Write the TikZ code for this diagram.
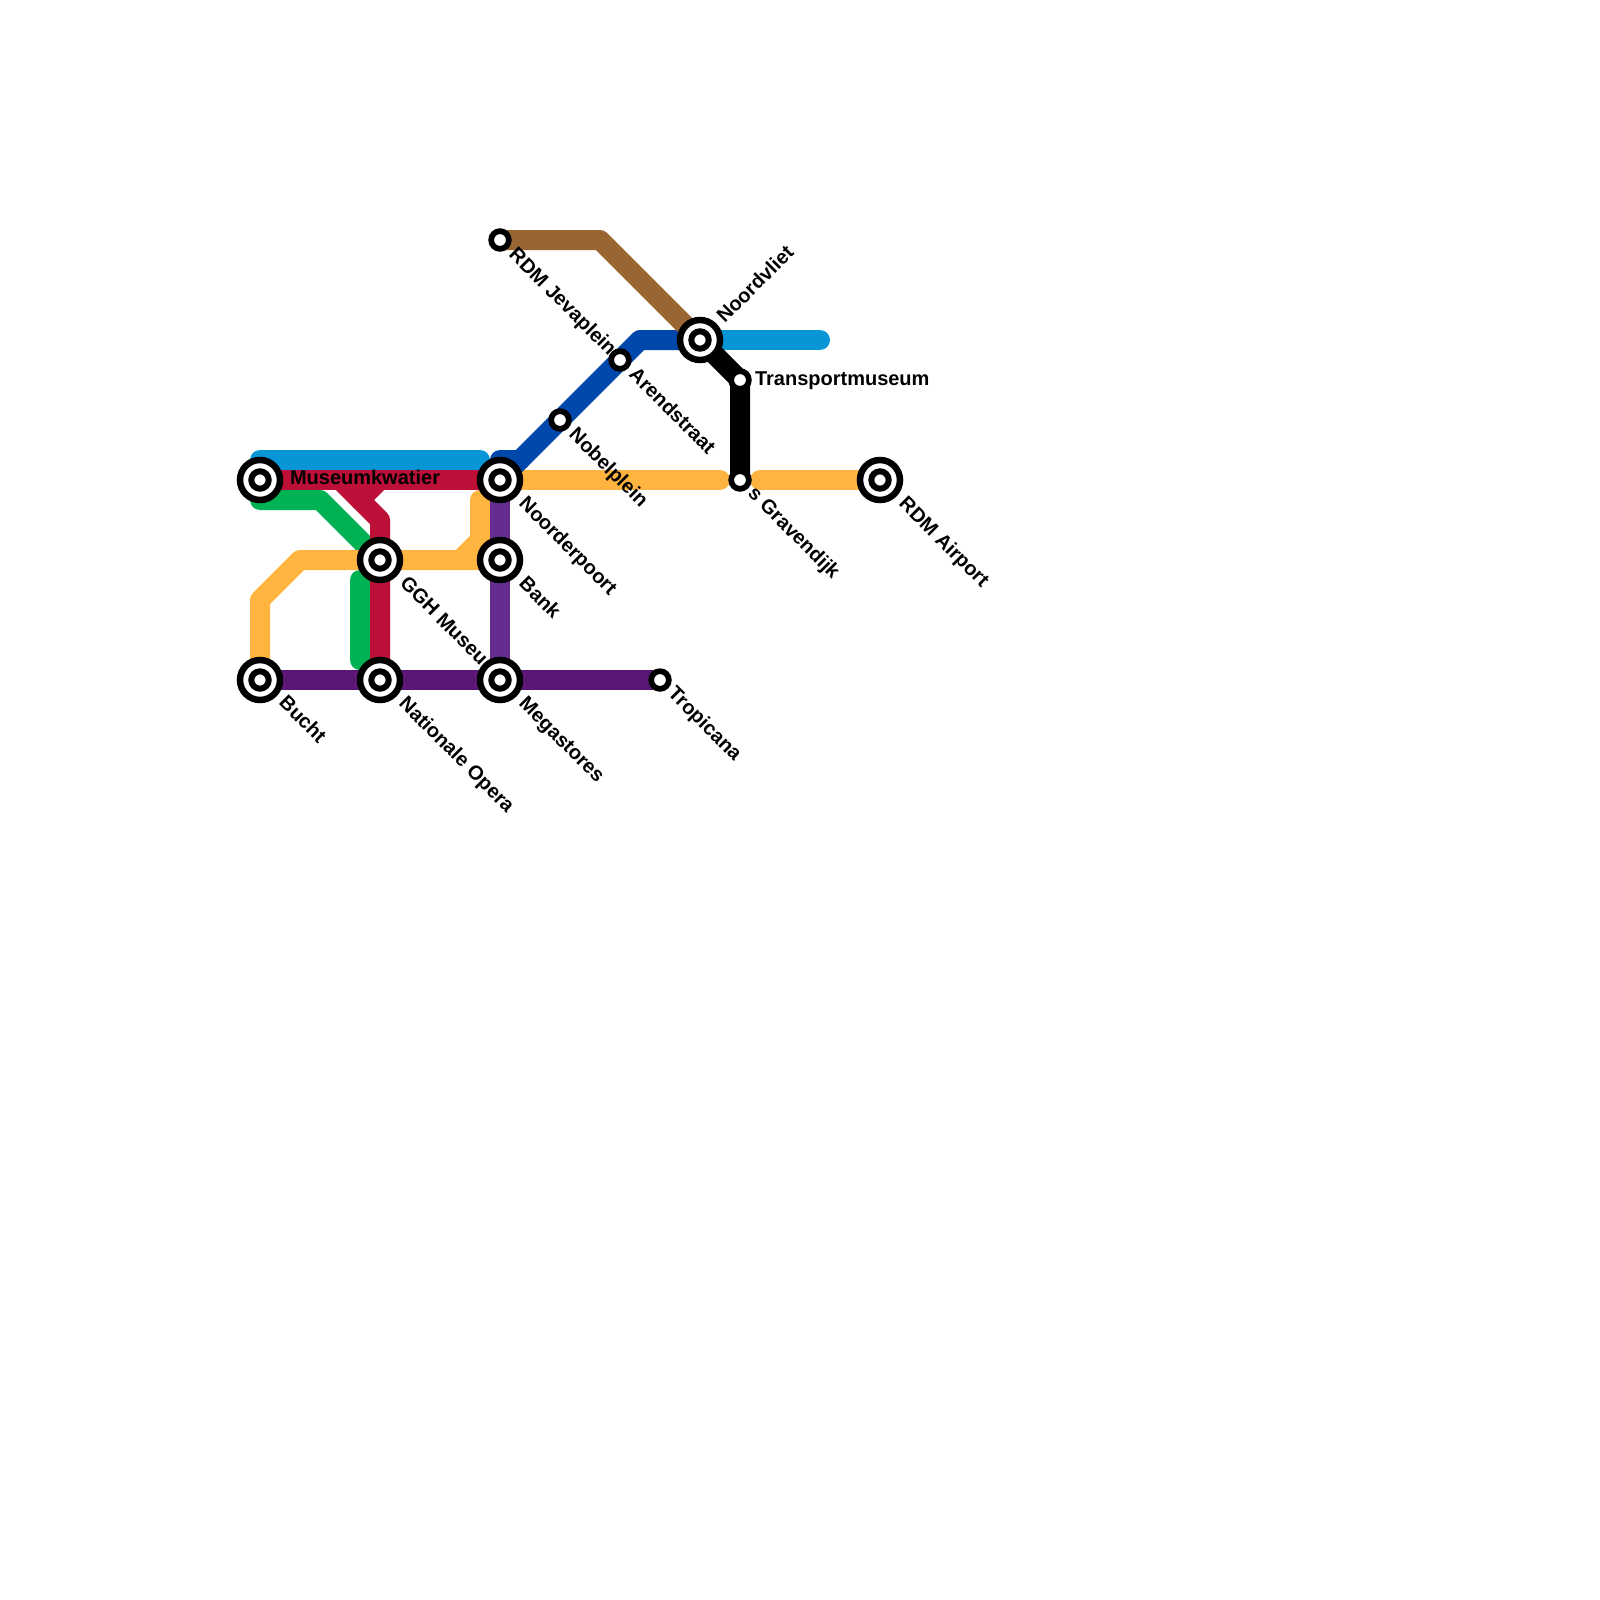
\documentclass[tikz,border=0pt]{standalone}
\usepackage{fontspec}
\setmainfont{Liberation Sans}
\usetikzlibrary{calc}
\pgfdeclarelayer{lines}
\pgfsetlayers{lines,main}
\definecolor{cblue}{HTML}{0896D7}
\definecolor{cnavy}{HTML}{0047AB}
\definecolor{cred}{HTML}{BD1038}
\definecolor{cgreen}{HTML}{00B251}
\definecolor{corange}{HTML}{FFB43F}
\definecolor{cpurple}{HTML}{662C90}
\definecolor{cdark}{HTML}{5B1777}
\definecolor{cbrown}{HTML}{996633}
\tikzset{
 x=0.5pt,y=-0.5pt,
 metro/.style={line width=10pt,line cap=round,line join=round},
 bigstop/.style={circle,fill=white,draw=black,line width=3.25pt,minimum size=20pt,inner sep=0pt,outer sep=0pt},
 bigcore/.style={circle,fill=white,draw=black,line width=3pt,minimum size=8.7pt,inner sep=0pt,outer sep=0pt},
 smallstop/.style={circle,fill=white,draw=black,line width=2.85pt,minimum size=8.85pt,inner sep=0pt,outer sep=0pt},
 lab/.style={font=\bfseries\fontsize{10}{10}\selectfont,text=black,anchor=west,inner sep=0pt,outer sep=0pt,text height=7.2pt,text depth=0.2pt},
 dn/.style={lab,rotate=-45},
 up/.style={lab,rotate=45},
}
\begin{document}
\begin{tikzpicture}
\useasboundingbox (0,0) rectangle (1600,1600);
\node[bigstop] (muse) at (260,480) {};
\node[bigstop] (ggh) at (380,560) {};
\node[bigstop] (noorder) at (500,480) {};
\node[bigstop] (bank) at (500,560) {};
\node[bigstop] (bucht) at (260,680) {};
\node[bigstop] (opera) at (380,680) {};
\node[bigstop] (mega) at (500,680) {};
\node[bigstop] (vliet) at (700,340) {};
\node[bigstop] (airport) at (880,480) {};
\foreach \n in {muse,ggh,noorder,bank,bucht,opera,mega,vliet,airport}{\node[bigcore] (\n-c) at (\n.center) {};}
\node[smallstop] (tropi) at (660,680) {};
\node[smallstop] (arend) at (620,360) {};
\node[smallstop] (nobel) at (560,420) {};
\node[smallstop] (jeva) at (500,240) {};
\node[smallstop] (trans) at (740,380) {};
\node[smallstop] (grav) at (740,480) {};
\coordinate (b1) at (260,460); \coordinate (b2) at (480,460);
\coordinate (b3) at (720,340); \coordinate (b4) at (820,340);
\coordinate (g1) at (260,500); \coordinate (g2) at (320,500);
\coordinate (g3) at (360,580); \coordinate (g4) at (360,660);
\coordinate (r1) at (340,480); \coordinate (r2) at (380,520);
\coordinate (r3) at (360,500); \coordinate (r4) at (380,480);
\coordinate (o1) at (260,600); \coordinate (o2) at (300,560);
\coordinate (o3) at (460,560); \coordinate (o4) at (480,540);
\coordinate (o5) at (480,500); \coordinate (o6) at (720,480);
\coordinate (o7) at (760,480);
\coordinate (n1) at (500,460); \coordinate (n2) at (520,460);
\coordinate (n3) at (640,340);
\coordinate (w1) at (600,240);
\begin{pgfonlayer}{lines}
\node[dn] (tggh) at ($(ggh)+(24,20)$) {GGH Museu};
\draw[metro,cblue] (b1) -- (b2);
\draw[metro,cblue] (vliet.center) -- (b3) -- (b4);
\draw[metro,cgreen] (g1) -- (g2) -- (ggh.center);
\draw[metro,cgreen] (g3) -- (g4);
\draw[metro,cred] (muse.center) -- (noorder.center);
\draw[metro,cred] (r1) -- (r2) -- (opera.center);
\draw[metro,cred] (r3) -- (r4);
\draw[metro,corange] (bucht.center) -- (o1) -- (o2) -- (bank.center);
\draw[metro,corange] (o3) -- (o4) -- (o5);
\draw[metro,corange] (noorder.center) -- (o6);
\draw[metro,corange] (o7) -- (airport.center);
\draw[metro,cpurple] (noorder.center) -- (mega.center);
\draw[metro,cdark] (bucht.center) -- (tropi.center);
\draw[metro,cnavy] (n1) -- (n2);
\draw[metro,cnavy] (noorder.center) -- (n3) -- (vliet.center);
\draw[metro,cbrown] (jeva.center) -- (w1) -- (vliet.center);
\draw[metro,black] (vliet.center) -- (trans.center) -- (grav.center);
\end{pgfonlayer}
\node[lab] (tmuse) at (290,477.5) {Museumkwatier};
\node[dn] (tnoorder) at ($(noorder)+(23,20)$) {Noorderpoort};
\node[dn] (tbank) at ($(bank)+(23,20)$) {Bank};
\node[dn] (tbucht) at ($(bucht)+(23,19)$) {Bucht};
\node[dn] (topera) at ($(opera)+(23,20)$) {Nationale Opera};
\node[dn] (tmega) at ($(mega)+(23,20)$) {Megastores};
\node[dn] (tair) at ($(airport)+(23,20)$) {RDM Airport};
\node[dn] (ttropi) at ($(tropi)+(12,10)$) {Tropicana};
\node[dn] (tarend) at ($(arend)+(13,11)$) {Arendstraat};
\node[dn] (tnobel) at ($(nobel)+(13,11)$) {Nobelplein};
\node[dn] (tjeva) at ($(jeva)+(13,11)$) {RDM Jevaplein};
\node[dn] (tgrav) at ($(grav)+(12,10)$) {s Gravendijk};
\node[up] (tvliet) at ($(vliet)+(20,-21)$) {Noordvliet};
\node[lab] (ttrans) at ($(trans)+(15,-2)$) {Transportmuseum};
\end{tikzpicture}
\end{document}
